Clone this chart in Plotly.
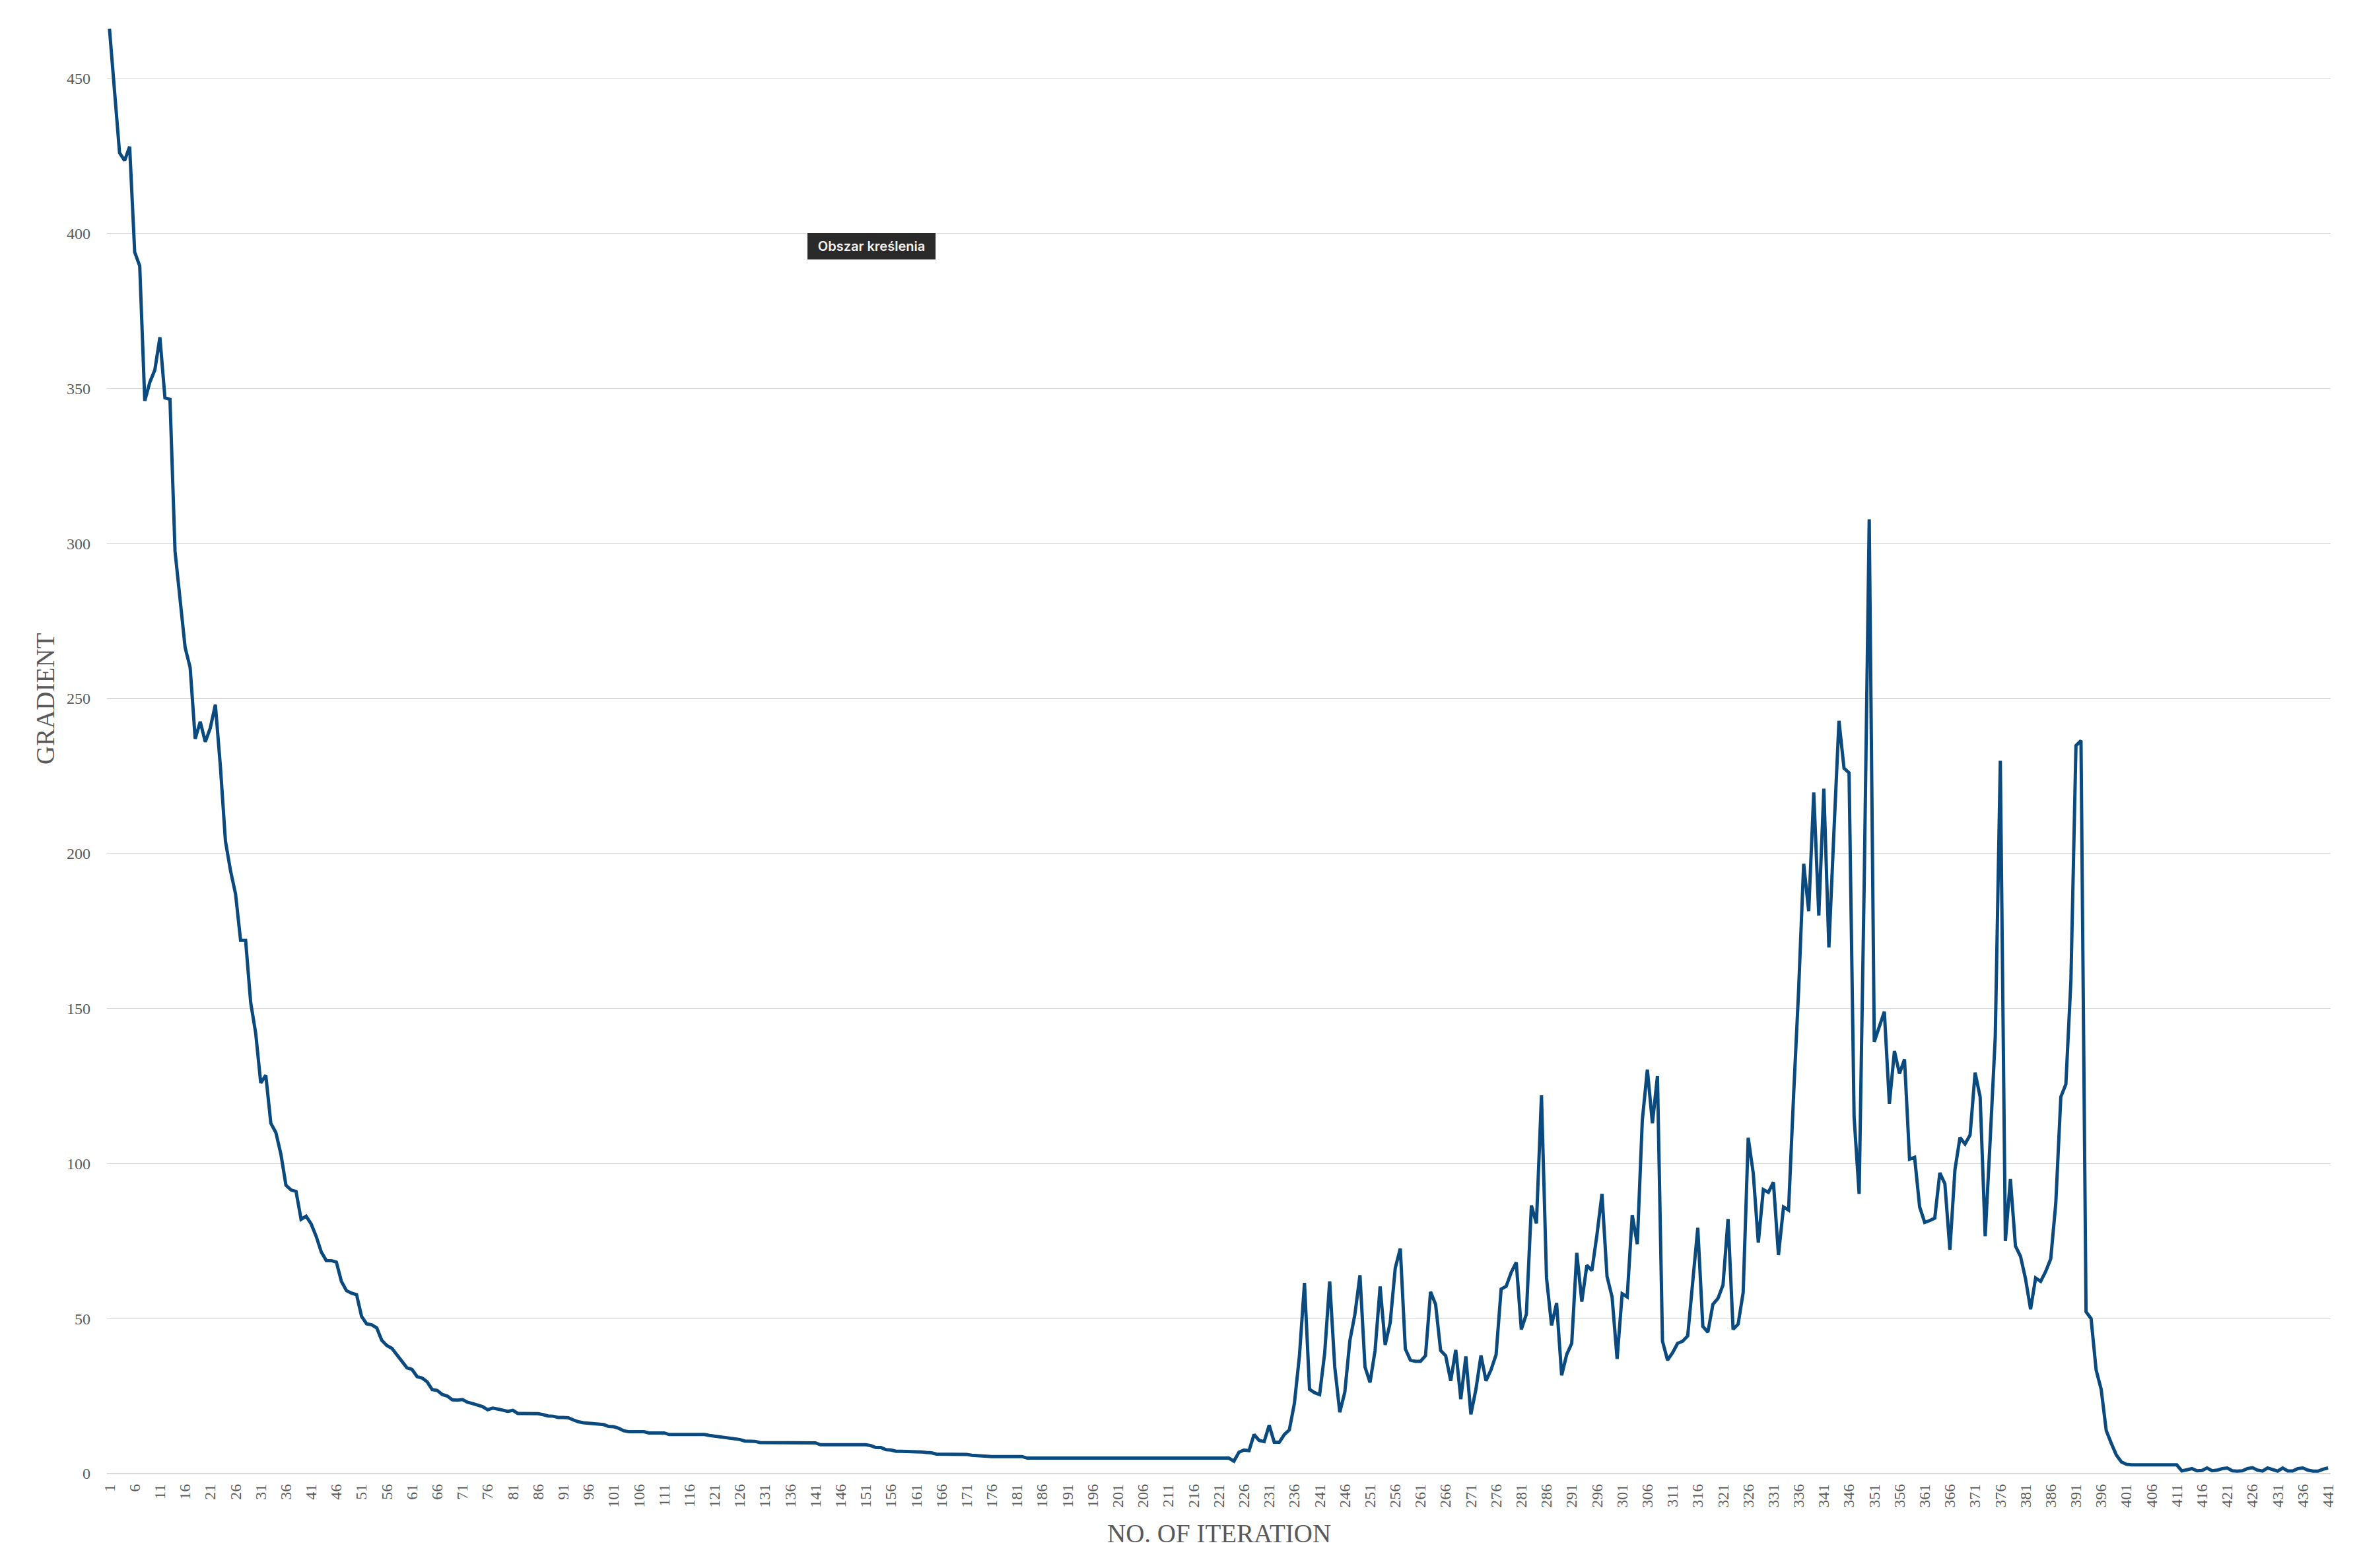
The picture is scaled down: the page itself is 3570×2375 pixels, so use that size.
import plotly.graph_objects as go

# ---- data ----
iterations = list(range(1, 442))

gradient = [
    466, 445, 426, 423.5, 428, 394, 389.5, 346, 352, 356,
    366.5, 347, 346.5, 297.5, 283, 266.5, 260, 237, 242.5, 236,
    240.5, 248, 228, 204, 194.5, 187, 172, 172, 152, 142,
    126, 128.5, 113, 110, 103, 93, 91.5, 91, 82, 83,
    80.5, 76.5, 71.5, 68.7, 68.7, 68.2, 62, 59, 58.2, 57.7,
    50.7, 48.3, 48, 47, 43, 41.3, 40.4, 38.3, 36.6, 34.1,
    33.6, 31.3, 30.8, 29.6, 27.1, 26.8, 25.5, 25, 23.8, 23.7,
    23.9, 23, 22.6, 22.1, 21.6, 20.6, 21.1, 20.8, 20.4, 20.1,
    20.4, 19.4, 19.4, 19.4, 19.4, 19.3, 19, 18.6, 18.5, 18.1,
    18.1, 18, 17.3, 16.7, 16.4, 16.2, 16, 16, 15.8, 15.2,
    15.1, 14.6, 13.8, 13.5, 13.5, 13.5, 13.5, 13.1, 13.1, 13.1,
    13.1, 12.6, 12.6, 12.6, 12.6, 12.6, 12.6, 12.6, 12.6, 12.3,
    12.1, 11.8, 11.7, 11.3, 11.2, 11, 10.5, 10.5, 10.4, 10,
    10, 10, 10, 10, 10, 10, 10, 10, 10, 10,
    9.9, 9.3, 9.3, 9.3, 9.3, 9.3, 9.3, 9.3, 9.3, 9.3,
    9.3, 9.0, 8.4, 8.4, 7.7, 7.6, 7.2, 7.2, 7.2, 7.2,
    7.2, 7.0, 6.8, 6.7, 6.3, 6.3, 6.3, 6.3, 6.3, 6.3,
    6.2, 5.9, 5.8, 5.5, 5.5, 5.5, 5.5, 5.5, 5.5, 5.5,
    5.5, 5.5, 5.0, 5.0, 5.0, 5.0, 5.0, 5.0, 5.0, 5.0,
    5.0, 5.0, 5.0, 5.0, 5.0, 5.0, 5.0, 5.0, 5.0, 5.0,
    5.0, 5.0, 5.0, 5.0, 5.0, 5.0, 5.0, 5.0, 5.0, 5.0,
    5.0, 5.0, 5.0, 5.0, 5.0, 5.0, 5.0, 5.0, 5.0, 5.0,
    5.0, 5.0, 5.0, 4.0, 6.9, 7.6, 7.4, 12.6, 10.7, 10.3,
    15.6, 10.1, 10.1, 12.6, 14.1, 22.7, 38, 61.5, 27.2, 26.1,
    25.5, 38.8, 62, 34.4, 19.8, 26.3, 42.9, 51.4, 64, 34.4,
    29.4, 39.7, 60.4, 41.5, 48.7, 66.3, 72.6, 40.2, 36.6, 36.2,
    36.2, 38, 58.6, 54.6, 39.7, 38, 29.9, 39.9, 24, 37.8,
    19.1, 27.2, 38.1, 29.9, 33.5, 38.4, 59.5, 60.4, 64.9, 68.1,
    46.5, 51.4, 86.5, 80.7, 122, 63.1, 47.8, 55, 31.7, 38.4,
    42, 71.2, 55.5, 67.2, 65.5, 77, 90.2, 63.6, 57, 37,
    58, 57, 83.4, 74, 114, 130.3, 113, 128.2, 42.7, 36.6,
    39, 42, 42.7, 44.4, 62.7, 79.3, 47.5, 45.6, 54.6, 56.5,
    60.8, 82.1, 46.5, 48.2, 58.4, 108.3, 96.9, 74.5, 91.6, 90.7,
    94, 70.5, 86, 85, 122, 156, 196.7, 181.4, 219.7, 180,
    220.9, 169.7, 207, 242.8, 227.5, 226, 115, 90.2, 190, 307.8,
    139.3, 144.5, 149, 119.3, 136.3, 129, 133.6, 101.4, 102, 86,
    81, 81.6, 82.4, 97, 93.5, 72.2, 98, 108.4, 106.3, 109.2,
    129.3, 121.5, 76.6, 108, 141, 229.9, 75, 95, 73.4, 70.1,
    62.8, 53, 63.1, 62, 65.2, 69.3, 87.2, 121.5, 125.6, 159,
    234.8, 236.4, 52.2, 50, 33.4, 27.2, 13.9, 9.8, 6, 3.8,
    3.0, 2.8, 2.8, 2.8, 2.8, 2.8, 2.8, 2.8, 2.8, 2.8,
    2.8, 0.85, 1.1, 1.6, 0.9, 1.0, 1.8, 0.9, 1.1, 1.6,
    1.8, 0.9, 0.8, 0.9, 1.6, 1.9, 1.1, 0.8, 1.8, 1.3,
    0.8, 1.8, 0.85, 0.85, 1.6, 1.8, 1.1, 0.8, 0.8, 1.4, 1.8,
]

x_title = "NO. OF ITERATION"
y_title = "GRADIENT"
tooltip_text = "Obszar kreślenia"

# ---- figure ----
W, H = 3570, 2375
ML, MR, MT, MB = 162, 40, 30, 143
plot_w = W - ML - MR
plot_h = H - MT - MB

LINE_COLOR = "#0B4A7E"
TEXT_COLOR = "#595959"
GRID_COLOR = "#D9D9D9"
SERIF = "Liberation Serif, Times New Roman, serif"

fig = go.Figure()
fig.add_trace(go.Scatter(
    x=iterations, y=gradient, mode="lines",
    line=dict(color=LINE_COLOR, width=5),
    hoverinfo="skip", showlegend=False,
))

fig.update_layout(
    width=W, height=H,
    margin=dict(l=ML, r=MR, t=MT, b=MB, autoexpand=False),
    paper_bgcolor="white", plot_bgcolor="white",
    showlegend=False,
    xaxis=dict(
        range=[0.5, 441.5], tickmode="linear", tick0=1, dtick=5,
        tickangle=-90, showgrid=False, zeroline=False,
        showline=False, ticks="", ticklabelstandoff=10,
        tickfont=dict(family=SERIF, size=24, color=TEXT_COLOR),
        fixedrange=True,
    ),
    yaxis=dict(
        range=[0, (H - MB - MT) / 4.696], tickmode="linear", tick0=0, dtick=50,
        showgrid=True, gridcolor=GRID_COLOR, gridwidth=1.3,
        zeroline=True, zerolinecolor=GRID_COLOR, zerolinewidth=1.6,
        showline=False, ticks="", ticklabelstandoff=24,
        tickfont=dict(family=SERIF, size=24, color=TEXT_COLOR),
        fixedrange=True,
    ),
)

def px_to_paper_x(px):
    return (px - ML) / plot_w

def px_to_paper_y(py):
    return (H - MB - py) / plot_h

fig.add_annotation(
    text=x_title, xref="paper", yref="paper",
    x=px_to_paper_x(1846), y=px_to_paper_y(2322),
    xanchor="center", yanchor="middle", showarrow=False,
    font=dict(family=SERIF, size=39, color=TEXT_COLOR),
)
fig.add_annotation(
    text=y_title, xref="paper", yref="paper",
    x=px_to_paper_x(68), y=px_to_paper_y(1059),
    xanchor="center", yanchor="middle", showarrow=False, textangle=-90,
    font=dict(family=SERIF, size=39, color=TEXT_COLOR),
)
fig.add_annotation(
    text=tooltip_text, xref="paper", yref="paper",
    x=px_to_paper_x(1320), y=px_to_paper_y(373),
    xanchor="center", yanchor="middle", showarrow=False,
    width=180, height=26, borderpad=6,
    bgcolor="#2A2A2A", bordercolor="#2A2A2A", borderwidth=1,
    font=dict(family="Inter, Roboto, sans-serif", size=20, color="#F2F2F2", weight=600),
)

fig.write_html(
    "out.html",
    config={"displayModeBar": False, "staticPlot": True},
    post_script="document.body.style.margin='0';document.body.style.overflow='hidden';",
)
